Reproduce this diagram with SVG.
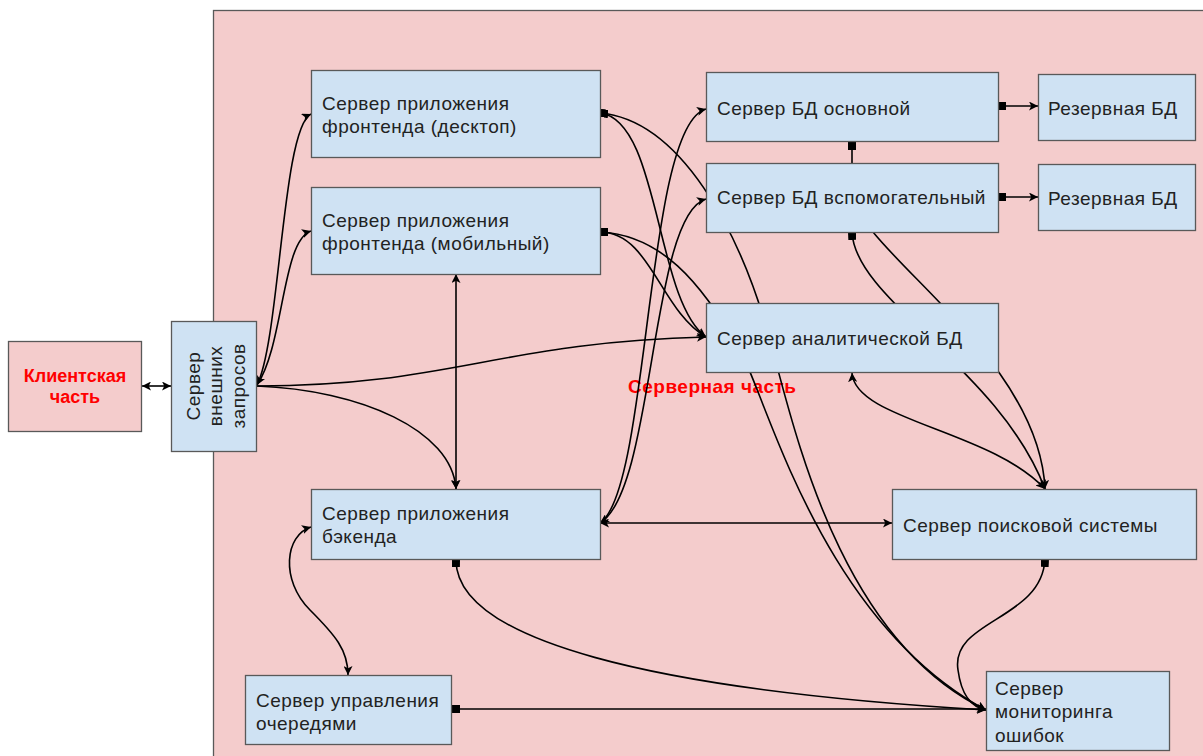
<svg xmlns="http://www.w3.org/2000/svg" width="1203" height="756" viewBox="0 0 1203 756">
<defs>
<style>
.box{fill:#cfe2f3;stroke:#595959;stroke-width:1.3}
.pink{fill:#f4cccc;stroke:#595959;stroke-width:1.3}
.t{font-family:"Liberation Sans",Arial,sans-serif;font-size:19px;fill:#222;letter-spacing:0.5px}
.r{font-family:"Liberation Sans",Arial,sans-serif;font-weight:bold;fill:#ff0000}
.c path{fill:none;stroke:#000;stroke-width:1.6}
</style>
<marker id="arr" viewBox="0 0 10 10" refX="10" refY="5" markerWidth="9" markerHeight="9" markerUnits="userSpaceOnUse" orient="auto-start-reverse"><path d="M0,0 L10,5 L0,10 L2.5,5 z" fill="#000"/></marker>
<marker id="sq" viewBox="0 0 10 10" refX="0" refY="5" markerWidth="8" markerHeight="8" markerUnits="userSpaceOnUse" orient="auto"><rect width="10" height="10" fill="#000"/></marker>
</defs>
<rect width="1203" height="756" fill="#fff"/>
<g id="server-part">
<rect x="213.5" y="10.5" width="1010" height="800" class="pink"/>
<text x="628" y="393" class="r" font-size="19" letter-spacing="0.5">Серверная часть</text>
</g>
<g class="c" id="connectors">
<path d="M142,386 L171,386" marker-start="url(#arr)" marker-end="url(#arr)"/>
<path d="M257,385 C280,340 282,128 311,114" marker-start="url(#arr)" marker-end="url(#arr)"/>
<path d="M257,385 C284,345 282,240 311,231" marker-end="url(#arr)"/>
<path d="M257,386 C450,386 500,342 706,337" marker-end="url(#arr)"/>
<path d="M257,386 C360,390 452,430 456,489" marker-end="url(#arr)"/>
<path d="M456,274 L456,489" marker-start="url(#arr)" marker-end="url(#arr)"/>
<path d="M600,113 C660,120 655,300 706,337" marker-start="url(#sq)" marker-end="url(#arr)"/>
<path d="M600,113 C680,120 740,230 770,340 C795,432 840,640 986,710" marker-start="url(#sq)" marker-end="url(#arr)"/>
<path d="M600,232 C650,232 660,310 706,337" marker-start="url(#sq)" marker-end="url(#arr)"/>
<path d="M600,232 C660,235 700,280 740,350 C766,395 820,620 986,710" marker-end="url(#arr)"/>
<path d="M600,523 C650,490 645,125 706,109" marker-start="url(#arr)" marker-end="url(#arr)"/>
<path d="M600,523 C655,490 650,215 706,199" marker-end="url(#arr)"/>
<path d="M600,523 L892,523" marker-start="url(#arr)" marker-end="url(#arr)"/>
<path d="M852,142 L852,163" marker-start="url(#sq)"/>
<path d="M998,106 L1038,106" marker-start="url(#sq)" marker-end="url(#arr)"/>
<path d="M998,197 L1038,197" marker-start="url(#sq)" marker-end="url(#arr)"/>
<path d="M852,232 C855,300 1000,370 1045,489" marker-start="url(#sq)" marker-end="url(#arr)"/>
<path d="M873,232 C920,290 1040,380 1045,489" marker-end="url(#arr)"/>
<path d="M852,373 C855,420 990,430 1045,489" marker-start="url(#arr)" marker-end="url(#arr)"/>
<path d="M1045,559 C1042,620 950,620 958,670 C962,700 975,708 986,710" marker-start="url(#sq)" marker-end="url(#arr)"/>
<path d="M456,559 C455,640 650,690 986,710" marker-start="url(#sq)" marker-end="url(#arr)"/>
<path d="M452,709 L986,709" marker-start="url(#sq)" marker-end="url(#arr)"/>
<path d="M311,527 C285,535 280,580 310,610 C335,635 348,650 348,675" marker-start="url(#arr)" marker-end="url(#arr)"/>
</g>
<g id="client">
<rect x="8.5" y="341.5" width="133" height="90" class="pink"/>
<text x="75" y="382" class="r" font-size="18" text-anchor="middle">Клиентская</text>
<text x="75" y="403" class="r" font-size="18" text-anchor="middle">часть</text>
</g>
<g id="external">
<rect x="171.5" y="321.5" width="85" height="130" class="box"/>
<text class="t" text-anchor="middle" transform="translate(200,386) rotate(-90)">Сервер</text>
<text class="t" text-anchor="middle" transform="translate(222,386) rotate(-90)">внешних</text>
<text class="t" text-anchor="middle" transform="translate(245,386) rotate(-90)">запросов</text>
</g>
<g id="frontend-desktop">
<rect x="311.5" y="70.5" width="289" height="87" class="box"/>
<text x="322" y="110" class="t">Сервер приложения</text>
<text x="322" y="133" class="t">фронтенда (десктоп)</text>
</g>
<g id="frontend-mobile">
<rect x="311.5" y="187.5" width="289" height="87" class="box"/>
<text x="322" y="227" class="t">Сервер приложения</text>
<text x="322" y="250" class="t">фронтенда (мобильный)</text>
</g>
<g id="backend">
<rect x="311.5" y="489.5" width="289" height="70" class="box"/>
<text x="322" y="520" class="t">Сервер приложения</text>
<text x="322" y="543" class="t">бэкенда</text>
</g>
<g id="queue">
<rect x="245.5" y="675.5" width="206" height="69" class="box"/>
<text x="256" y="707" class="t">Сервер управления</text>
<text x="256" y="730" class="t">очередями</text>
</g>
<g id="db-main">
<rect x="706.5" y="72.5" width="292" height="69" class="box"/>
<text x="717" y="115" class="t">Сервер БД основной</text>
</g>
<g id="db-aux">
<rect x="706.5" y="163.5" width="292" height="69" class="box"/>
<text x="717" y="204" class="t">Сервер БД вспомогательный</text>
</g>
<g id="reserve-1">
<rect x="1038.5" y="74.5" width="157" height="66" class="box"/>
<text x="1048" y="115" class="t">Резервная БД</text>
</g>
<g id="reserve-2">
<rect x="1038.5" y="164.5" width="157" height="66" class="box"/>
<text x="1048" y="205" class="t">Резервная БД</text>
</g>
<g id="analytics">
<rect x="706.5" y="303.5" width="292" height="69" class="box"/>
<text x="717" y="345" class="t">Сервер аналитической БД</text>
</g>
<g id="search">
<rect x="892.5" y="489.5" width="304" height="70" class="box"/>
<text x="903" y="532" class="t">Сервер поисковой системы</text>
</g>
<g id="monitoring">
<rect x="986.5" y="671.5" width="183" height="79" class="box"/>
<text x="995" y="695" class="t">Сервер</text>
<text x="995" y="718" class="t">мониторинга</text>
<text x="995" y="742" class="t">ошибок</text>
</g>
</svg>
